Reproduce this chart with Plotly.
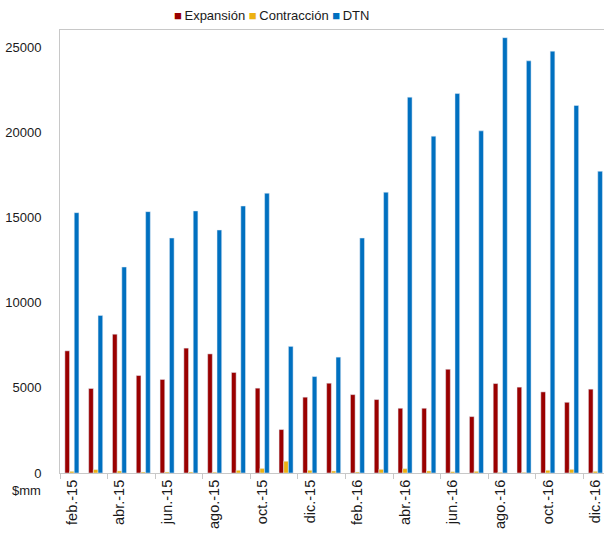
import plotly.graph_objects as go

months = ["feb.-15", "mar.-15", "abr.-15", "may.-15", "jun.-15", "jul.-15", "ago.-15",
          "sep.-15", "oct.-15", "nov.-15", "dic.-15", "ene.-16", "feb.-16", "mar.-16",
          "abr.-16", "may.-16", "jun.-16", "jul.-16", "ago.-16", "sep.-16", "oct.-16",
          "nov.-16", "dic.-16"]

expansion = [7170, 4960, 8150, 5720, 5490, 7330, 6990, 5900, 4980, 2550, 4450, 5270,
             4600, 4310, 3800, 3800, 6090, 3310, 5250, 5040, 4760, 4150, 4920]
contraccion = [100, 200, 120, 60, 60, 60, 50, 160, 270, 690, 160, 120,
               60, 215, 255, 120, 80, 100, 40, 40, 160, 215, 100]
dtn = [15280, 9250, 12090, 15340, 13790, 15380, 14260, 15670, 16420, 7430, 5660, 6800,
       13790, 16480, 22060, 19770, 22270, 20080, 25550, 24190, 24760, 21570, 17710]

series_names = ["Expansión", "Contracción", "DTN"]
series_colors = ["#9A0000", "#EDB111", "#0070C0"]

tick_months = months[::2]
y_ticks = [0, 5000, 10000, 15000, 20000, 25000]

FONT = "Liberation Sans, Arial, sans-serif"
TXT = "#1a1a1a"

fig = go.Figure()
for name, vals, col in zip(series_names, [expansion, contraccion, dtn], series_colors):
    fig.add_trace(go.Bar(x=months, y=vals, name=name, marker_color=col,
                         showlegend=False))

fig.update_layout(
    width=604, height=534,
    margin=dict(l=60, r=0, t=30, b=61),
    paper_bgcolor="white", plot_bgcolor="white",
    barmode="group", bargap=0.41, bargroupgap=0,
    font=dict(family=FONT, size=13, color=TXT),
    showlegend=False,
)

# compact legend line (text keys)
legend_text = " ".join(
    f'<span style="color:{c}">■</span>\u2009{n}' for n, c in zip(series_names, series_colors)
)
fig.add_annotation(text=legend_text, xref="paper", yref="paper",
                   x=0.388, y=1 + 15 / 443, xanchor="center", yanchor="middle",
                   showarrow=False, font=dict(size=13, family=FONT, color=TXT))

fig.add_annotation(text="$mm", xref="paper", yref="paper", x=-0.092, y=-0.04,
                   xanchor="left", yanchor="middle", showarrow=False,
                   font=dict(size=13, family=FONT, color=TXT))

fig.update_xaxes(
    type="category", range=[-0.5, 22.36],
    tickmode="array", tickvals=tick_months, ticktext=tick_months,
    tickangle=-90, ticks="outside", ticklen=5, tickcolor="#C8C8C8",
    tickson="boundaries", tickfont=dict(size=14.5),
    showline=True, linecolor="#C8C8C8", linewidth=1, mirror=True,
    showgrid=False, zeroline=False,
)
fig.update_yaxes(
    range=[0, 26000], tickmode="array", tickvals=y_ticks,
    ticktext=[str(v) for v in y_ticks],
    showline=True, linecolor="#C8C8C8", linewidth=1, mirror=True,
    showgrid=False, zeroline=False, ticks="", ticklabelstandoff=15,
)

fig.write_html("out.html")
